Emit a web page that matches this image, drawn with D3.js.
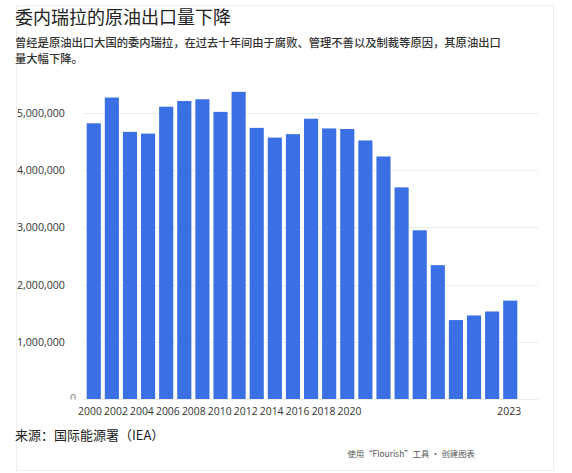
<!DOCTYPE html>
<html><head><meta charset="utf-8">
<script src="https://cdn.jsdelivr.net/npm/d3@7"></script>
<style>
html,body{margin:0;padding:0;background:#fff;}
svg{display:block;}
</style></head>
<body>
<svg id="chart" width="572" height="473"></svg>
<script>
const title = "委内瑞拉的原油出口量下降";
const subtitle = "曾经是原油出口大国的委内瑞拉，在过去十年间由于腐败、管理不善以及制裁等原因，其原油出口量大幅下降。";
const source = "来源：国际能源署（IEA）";
const credit = "使用“Flourish”工具 · 创建图表";
const years = ["2000","2001","2002","2003","2004","2005","2006","2007","2008","2009","2010","2011","2012","2013","2014","2015","2016","2017","2018","2019","2020","2021","2022","2023"];
const exportsBpd = [4820000,5270000,4670000,4640000,5110000,5210000,5240000,5020000,5370000,4740000,4570000,4630000,4900000,4730000,4720000,4520000,4240000,3700000,2950000,2340000,1380000,1460000,1530000,1720000];
const yTicks = [0,1000000,2000000,3000000,4000000,5000000];
const xTickLabels = ["2000","2002","2004","2006","2008","2010","2012","2014","2016","2018","2020"];
const lastLabel = "2023";

const svg = d3.select("#chart");
const font = "'Noto Sans CJK SC','Noto Sans',sans-serif";

// frame
svg.append("rect").attr("x",16.5).attr("y",5.5).attr("width",537).attr("height",465)
  .attr("fill","none").attr("stroke","#eeeeee");

svg.append("text").attr("x",15).attr("y",24).text(title)
  .attr("font-family",font).attr("font-size",18).attr("fill","#222");

// subtitle with wrapping
const sub = svg.append("text").attr("font-family",font).attr("font-size",11.3).attr("fill","#333").attr("font-weight",500);
(function wrap(){
  const maxW = 492; const lh = 15.5; let line = ""; let ln = 0;
  let t = sub.append("tspan").attr("x",15).attr("y",47);
  for (const ch of subtitle){
    const test = line + ch;
    t.text(test);
    if (t.node().getComputedTextLength() > maxW && line.length){
      t.text(line); line = ch; ln++;
      t = sub.append("tspan").attr("x",15).attr("y",47 + ln*lh).text(line);
    } else line = test;
  }
})();

const x = d3.scaleBand().domain(years).range([84.7,519.3]).paddingInner(0.22).paddingOuter(0.11);
const y = d3.scaleLinear().domain([0,5500000]).range([399,84.4]);

// gridlines
svg.append("g").selectAll("line").data(yTicks).join("line")
  .attr("x1",83).attr("x2",538).attr("y1",d=>Math.round(y(d))+0.5).attr("y2",d=>Math.round(y(d))+0.5)
  .attr("stroke","#ececec").attr("stroke-width",1);

// y labels
const clip = svg.append("clipPath").attr("id","yclip");
clip.append("rect").attr("x",0).attr("y",0).attr("width",84).attr("height",399.5);
const fmt = d3.format(",");
svg.append("g").attr("clip-path","url(#yclip)").selectAll("text").data(yTicks).join("text")
  .attr("x",d=>d===0?70:17).attr("y",d=>d===0?y(d)+3:y(d)+4)
  .attr("font-family","'Open Sans',sans-serif").attr("font-size",10.6).attr("fill",d=>d===0?"#777":"#333")
  .text(d=>fmt(d));

// bars
svg.append("g").selectAll("rect").data(years).join("rect")
  .attr("x",d=>x(d)).attr("width",x.bandwidth())
  .attr("y",(d,i)=>y(exportsBpd[i])).attr("height",(d,i)=>y(0)-y(exportsBpd[i]))
  .attr("fill","#3a70e3");

// x labels (as rendered in reference)
const xl = d3.scalePoint().domain(xTickLabels).range([90,349.5]);
svg.append("g").selectAll("text").data(xTickLabels).join("text")
  .attr("x",d=>xl(d)).attr("y",415).attr("text-anchor","middle")
  .attr("font-family","'Open Sans',sans-serif").attr("font-size",10.4).attr("fill","#333").text(d=>d);
svg.append("text").attr("x",x(lastLabel)+x.bandwidth()/2-1).attr("y",415).attr("text-anchor","middle")
  .attr("font-family","'Open Sans',sans-serif").attr("font-size",10.4).attr("fill","#333").text(lastLabel);

svg.append("text").attr("x",15).attr("y",440).text(source)
  .attr("font-family",font).attr("font-size",13).attr("fill","#222");
svg.append("text").attr("x",475).attr("y",457).attr("text-anchor","end").text(credit)
  .attr("font-family",font).attr("font-size",8.4).attr("fill","#555");
</script>
</body></html>
